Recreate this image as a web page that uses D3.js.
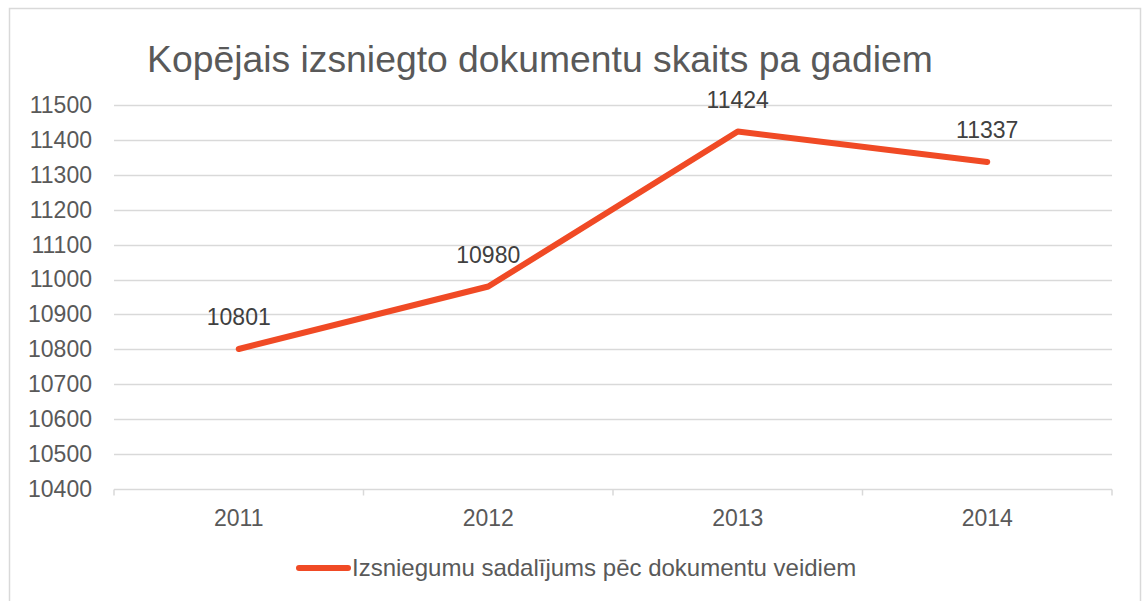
<!DOCTYPE html>
<html>
<head>
<meta charset="utf-8">
<script src="https://cdn.jsdelivr.net/npm/d3@7"></script>
<style>
  html, body { margin: 0; padding: 0; background: #fff; }
  svg { display: block; font-family: "Liberation Sans", Arial, sans-serif; }
</style>
</head>
<body>
<svg id="chart" width="1145" height="601"></svg>
<script>
const title = "Kopējais izsniegto dokumentu skaits pa gadiem";
const seriesName = "Izsniegumu sadalījums pēc dokumentu veidiem";
const categories = ["2011", "2012", "2013", "2014"];
const values = [10801, 10980, 11424, 11337];
const yTicks = [10400, 10500, 10600, 10700, 10800, 10900, 11000, 11100, 11200, 11300, 11400, 11500];

const svg = d3.select("#chart");
const textColor = "#595959";
const gridColor = "#d9d9d9";
const lineColor = "#F04A25";

// outer border
svg.append("rect")
  .attr("x", 9.5).attr("y", 8.5)
  .attr("width", 1131).attr("height", 610)
  .attr("fill", "none").attr("stroke", gridColor).attr("stroke-width", 1.5);

const plot = { left: 114, right: 1112, top: 105, bottom: 489 };

const x = d3.scaleBand().domain(categories).range([plot.left, plot.right]).padding(0);
const y = d3.scaleLinear().domain([10400, 11500]).range([plot.bottom, plot.top]);

// title
svg.append("text")
  .attr("x", 540).attr("y", 72)
  .attr("text-anchor", "middle")
  .attr("font-size", 37.3)
  .attr("fill", textColor)
  .text(title);

// gridlines
svg.append("g")
  .selectAll("line")
  .data(yTicks.filter(d => d !== 10400))
  .join("line")
  .attr("x1", plot.left).attr("x2", plot.right)
  .attr("y1", d => Math.round(y(d)) + 0.5).attr("y2", d => Math.round(y(d)) + 0.5)
  .attr("stroke", gridColor).attr("stroke-width", 1.5);

// y axis labels
const yAxis = d3.axisLeft(y).tickValues(yTicks).tickFormat(d3.format("d")).tickSize(0).tickPadding(22);
const gy = svg.append("g").attr("transform", `translate(${plot.left},0)`).call(yAxis);
gy.select(".domain").remove();
gy.selectAll("text").attr("font-size", 23).attr("fill", textColor).attr("font-family", "Liberation Sans, Arial, sans-serif");

// x axis
const gx = svg.append("g").attr("transform", `translate(0,${Math.round(plot.bottom) + 0.5})`);
gx.append("line")
  .attr("x1", plot.left).attr("x2", plot.right)
  .attr("stroke", gridColor).attr("stroke-width", 1.5);
const tickPos = categories.map(c => x(c)).concat([x(categories[categories.length - 1]) + x.bandwidth()]);
gx.selectAll("line.tick")
  .data(tickPos)
  .join("line")
  .attr("class", "tick")
  .attr("x1", d => d).attr("x2", d => d)
  .attr("y1", 0).attr("y2", 6)
  .attr("stroke", gridColor).attr("stroke-width", 1.5);
gx.selectAll("text")
  .data(categories)
  .join("text")
  .attr("x", d => x(d) + x.bandwidth() / 2)
  .attr("y", 36)
  .attr("text-anchor", "middle")
  .attr("font-size", 23)
  .attr("fill", textColor)
  .text(d => d);

// line
const pts = categories.map((c, i) => ({ c, v: values[i] }));
const line = d3.line()
  .x(d => x(d.c) + x.bandwidth() / 2)
  .y(d => y(d.v));
svg.append("path")
  .datum(pts)
  .attr("d", line)
  .attr("fill", "none")
  .attr("stroke", lineColor)
  .attr("stroke-width", 6)
  .attr("stroke-linejoin", "round")
  .attr("stroke-linecap", "round");

// data labels
svg.append("g")
  .selectAll("text")
  .data(pts)
  .join("text")
  .attr("x", d => x(d.c) + x.bandwidth() / 2)
  .attr("y", d => y(d.v) - 24)
  .attr("text-anchor", "middle")
  .attr("font-size", 23)
  .attr("fill", "#404040")
  .text(d => d.v);

// legend
const lg = svg.append("g");
lg.append("line")
  .attr("x1", 299).attr("x2", 348)
  .attr("y1", 568).attr("y2", 568)
  .attr("stroke", lineColor).attr("stroke-width", 6).attr("stroke-linecap", "round");
lg.append("text")
  .attr("x", 352).attr("y", 568)
  .attr("dy", "0.35em")
  .attr("font-size", 24)
  .attr("fill", textColor)
  .text(seriesName);
</script>
</body>
</html>
